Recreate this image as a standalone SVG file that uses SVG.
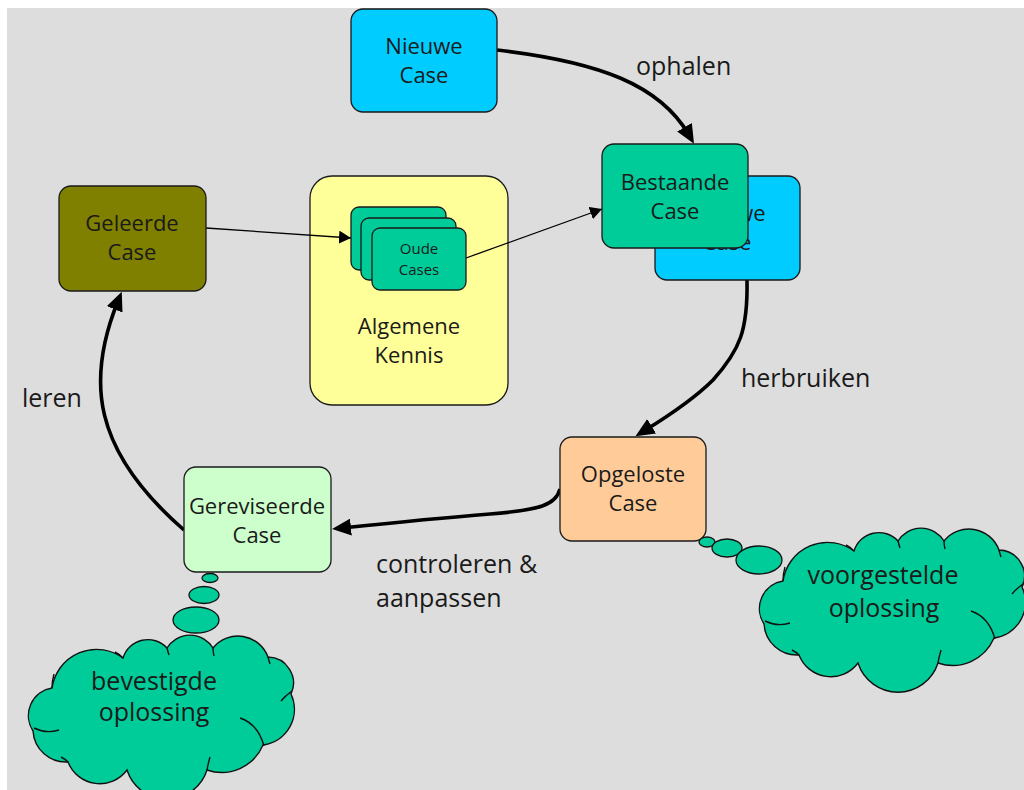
<svg xmlns="http://www.w3.org/2000/svg" xmlns:xlink="http://www.w3.org/1999/xlink" width="1024" height="790" viewBox="0 0 1024 790">
  <style>
    .box { stroke: #1a1a1a; stroke-width: 1.3; }
    .t { font-family: "Open Sans", "Noto Sans", "DejaVu Sans", sans-serif; fill: #1a1a1a; }
    .node { font-size: 22px; text-anchor: middle; }
    .small { font-size: 15px; text-anchor: middle; }
    .lbl { font-size: 25px; }
    .cloudtxt { font-size: 25px; text-anchor: middle; }
    .thick { fill: none; stroke: #000; stroke-width: 3.6; }
    .thin { fill: none; stroke: #000; stroke-width: 1.3; }
    .cloud { fill: #00cc99; stroke: #111; stroke-width: 1.4; }
    .inner { fill: none; stroke: #111; stroke-width: 1.4; }
    .bubble { fill: #00cc99; stroke: #111; stroke-width: 1.3; }
  </style>
  <defs>
    <marker id="headBig" markerUnits="userSpaceOnUse" viewBox="0 0 19 17" markerWidth="19" markerHeight="17" refX="9" refY="8.5" orient="auto">
      <path d="M0,0 L19,8.5 L0,17 z" fill="#000"/>
    </marker>
    <marker id="headSmall" markerUnits="userSpaceOnUse" viewBox="0 0 12 13" markerWidth="12" markerHeight="13" refX="12" refY="6.5" orient="auto">
      <path d="M0,0 L12,6.5 L0,13 z" fill="#000"/>
    </marker>
    <!-- cloud outline, drawn in the coordinates of the lower-left cloud -->
    <path id="cloudShape" d="M33,731 A28,28 0 0 1 52,688 A45,45 0 0 1 123,658 A26,26 0 0 1 167,648 A27,27 0 0 1 213,648 A32,32 0 0 1 268,657 A26,26 0 0 1 291,694 A36,36 0 0 1 263,745 A45,45 0 0 1 207,770 A42,42 0 0 1 127,770 A34,34 0 0 1 68,762 A33,33 0 0 1 33,731 Z"/>
    <path id="cloudInner" d="M34,728 Q46,734 59,730 M52,688 Q52,681 54,674 M123,658 Q119,654 115,652 M167,648 Q168,652 169,655 M213,648 Q213,652 214,656 M268,657 Q269,661 270,664 M281,701 Q285,696 292,691 M240,718 Q258,724 264,746 M207,770 Q208,764 210,757 M68,762 Q65,759 61,757"/>
  </defs>

  <!-- canvas -->
  <rect x="0" y="0" width="1024" height="790" fill="#ffffff"/>
  <rect x="7" y="8" width="1017" height="782" fill="#dddddd"/>

  <!-- container for general knowledge -->
  <g id="algemene-kennis">
    <rect class="box" x="310" y="176" width="198" height="229" rx="22" fill="#ffff99" stroke-width="1.5"/>
    <text class="t node" x="409" y="334">Algemene</text>
    <text class="t node" x="409" y="363">Kennis</text>
  </g>

  <g id="connectors">
    <!-- ophalen -->
    <path class="thick" d="M497,50 C600,62 660,85 689,135" marker-end="url(#headBig)"/>
    <!-- herbruiken -->
    <path class="thick" d="M747,280 C748,330 740,350 713,380 C695,398 670,415 644,431" marker-end="url(#headBig)"/>
    <!-- controleren & aanpassen -->
    <path class="thick" d="M560,489 C556,505 540,510 490,514 C440,518 390,523 342,528" marker-end="url(#headBig)"/>
    <!-- leren -->
    <path class="thick" d="M184,530 C92,450 86,380 118,301" marker-end="url(#headBig)"/>
    <!-- thin links through the case base -->
    <path class="thin" d="M206,228 L351,238" marker-end="url(#headSmall)"/>
    <path class="thin" d="M466,258 L602,209" marker-end="url(#headSmall)"/>
    <text class="t lbl" x="636" y="75">ophalen</text>
    <text class="t lbl" x="741" y="387">herbruiken</text>
    <text class="t lbl" x="376" y="573">controleren &amp;</text>
    <text class="t lbl" x="376" y="607">aanpassen</text>
    <text class="t lbl" x="22" y="407">leren</text>
  </g>

  <g id="oude-cases">
    <rect class="box" x="351" y="207" width="95" height="63" rx="8" fill="#00cc99"/>
    <rect class="box" x="361" y="218" width="95" height="62" rx="8" fill="#00cc99"/>
    <rect class="box" x="372" y="228" width="94" height="62" rx="8" fill="#00cc99"/>
    <text class="t small" x="419" y="254">Oude</text>
    <text class="t small" x="419" y="275">Cases</text>
  </g>

  <g id="nieuwe-case">
    <rect class="box" x="351" y="9" width="146" height="103" rx="12" fill="#00ccff"/>
    <text class="t node" x="424" y="54">Nieuwe</text>
    <text class="t node" x="424" y="83">Case</text>
  </g>

  <g id="bestaande-case">
    <rect class="box" x="655" y="176" width="145" height="104" rx="12" fill="#00ccff"/>
    <text class="t node" x="727" y="221">Nieuwe</text>
    <text class="t node" x="727" y="250">Case</text>
    <rect class="box" x="602" y="144" width="146" height="104" rx="12" fill="#00cc99"/>
    <text class="t node" x="675" y="190">Bestaande</text>
    <text class="t node" x="675" y="219">Case</text>
  </g>

  <g id="geleerde-case">
    <rect class="box" x="59" y="186" width="147" height="105" rx="12" fill="#808000"/>
    <text class="t node" x="132" y="231">Geleerde</text>
    <text class="t node" x="132" y="260">Case</text>
  </g>

  <g id="opgeloste-case">
    <rect class="box" x="560" y="437" width="146" height="104" rx="12" fill="#ffcc99"/>
    <text class="t node" x="633" y="482">Opgeloste</text>
    <text class="t node" x="633" y="511">Case</text>
  </g>

  <g id="gereviseerde-case">
    <rect class="box" x="184" y="467" width="147" height="105" rx="12" fill="#ccffcc"/>
    <text class="t node" x="257" y="514">Gereviseerde</text>
    <text class="t node" x="257" y="543">Case</text>
  </g>

  <g id="voorgestelde-oplossing">
    <ellipse class="bubble" cx="707" cy="542" rx="8" ry="5"/>
    <ellipse class="bubble" cx="727" cy="548" rx="15" ry="9"/>
    <ellipse class="bubble" cx="759" cy="560" rx="23" ry="14"/>
    <g transform="translate(731,-107)">
      <use xlink:href="#cloudShape" class="cloud"/>
      <use xlink:href="#cloudInner" class="inner"/>
    </g>
    <text class="t cloudtxt" x="883" y="584">voorgestelde</text>
    <text class="t cloudtxt" x="884" y="617">oplossing</text>
  </g>

  <g id="bevestigde-oplossing">
    <ellipse class="bubble" cx="210" cy="578" rx="8" ry="4.5"/>
    <ellipse class="bubble" cx="204" cy="595" rx="15" ry="8.5"/>
    <ellipse class="bubble" cx="196" cy="620" rx="23" ry="13"/>
    <use xlink:href="#cloudShape" class="cloud"/>
    <use xlink:href="#cloudInner" class="inner"/>
    <text class="t cloudtxt" x="154" y="690">bevestigde</text>
    <text class="t cloudtxt" x="154" y="721">oplossing</text>
  </g>
</svg>
